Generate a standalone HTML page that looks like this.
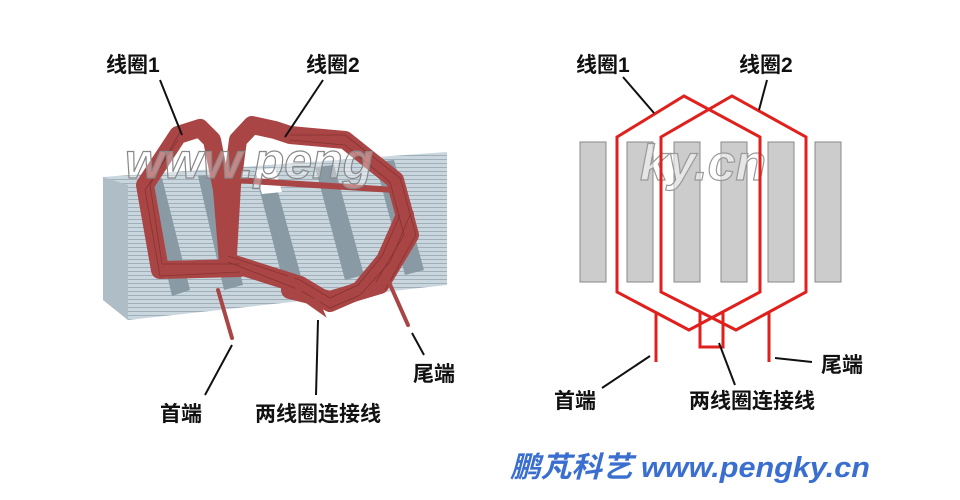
<!DOCTYPE html>
<html><head><meta charset="utf-8"><style>
html,body{margin:0;padding:0;background:#fff;width:960px;height:500px;overflow:hidden}
svg{display:block}
.lb{font-family:"Liberation Sans","Noto Sans CJK SC",sans-serif;font-weight:bold;font-size:21px;fill:#111}
</style></head><body>
<svg width="960" height="500" viewBox="0 0 960 500">
<defs>
<pattern id="lam" width="6" height="4" patternUnits="userSpaceOnUse">
<rect width="6" height="4" fill="#c9d6de"/><rect y="3" width="6" height="1" fill="#9fb0ba"/>
</pattern>
</defs>
<!-- LEFT 3D -->
<polygon points="103,177 447,152 447,285 128,320 103,300" fill="url(#lam)"/>
<polygon points="103,177 128,185 128,320 103,300" fill="#aebdc6"/>
<g fill="#8a9aa4">
<polygon points="145,180 162,178 190,290 172,296"/>
<polygon points="198,176 215,174 243,285 224,290"/>
<polygon points="255,172 272,170 302,280 284,285"/>
<polygon points="315,167 334,165 364,275 345,280"/>
<polygon points="375,162 394,160 424,270 405,275"/>
</g>
<polygon points="255,170 275,168 282,192 262,194" fill="#fff"/>
<g fill="none" stroke="#a94545" stroke-linejoin="round" stroke-linecap="round">
<path d="M240,268 L160,270 L145,185 L178,135 L200,128 L212,140 L222,190 L228,262 L300,285 L330,303 L360,290 L385,260 L405,215" stroke-width="18"/>
<path d="M228,255 L232,185 L238,140 L252,125 L275,130 L290,135 L345,140 L395,180 L410,235 L380,285 L330,300 L290,290" stroke-width="18"/>
<path d="M235,180 L395,190" stroke-width="6"/>
</g>
<g fill="none" stroke="#7a2a2a" stroke-width="0.8" opacity="0.7">
<path d="M240,272 L160,276 L145,190 L178,140"/>
<path d="M240,264 L162,264 L150,185 L180,132"/>
<path d="M228,262 L300,290 L330,308 L360,295 L390,262 L410,215"/>
<path d="M228,256 L300,280 L330,298 L358,285 L382,256 L400,215"/>
<path d="M290,135 L345,135 L400,178 L416,235 L385,290"/>
<path d="M290,140 L345,145 L390,182 L404,235 L376,282"/>
</g>
<g stroke="#a94545" stroke-width="4" fill="none" stroke-linecap="round">
<path d="M218,290 L232,338"/>
<path d="M290,275 L305,300 L322,312 L315,296"/>
<path d="M388,280 L408,325"/>
</g>
<text x="125" y="178" font-family="Liberation Sans,sans-serif" font-style="italic" font-weight="bold" font-size="50" fill="#ffffff" fill-opacity="0.35" stroke="#888" stroke-width="1.2">www.peng</text>
<g stroke="#111" stroke-width="2">
<line x1="160" y1="80" x2="182" y2="135"/>
<line x1="323" y1="80" x2="285" y2="137"/>
<line x1="232" y1="345" x2="205" y2="395"/>
<line x1="318" y1="320" x2="316" y2="395"/>
<line x1="412" y1="333" x2="424" y2="355"/>
</g>
<text class="lb" x="106" y="72">线圈1</text>
<text class="lb" x="306" y="72">线圈2</text>
<text class="lb" x="160" y="421">首端</text>
<text class="lb" x="255" y="421">两线圈连接线</text>
<text class="lb" x="413" y="381">尾端</text>
<!-- RIGHT -->
<g fill="#cccccc" stroke="#888" stroke-width="1">
<rect x="580" y="142" width="26" height="140"/>
<rect x="627" y="142" width="26" height="140"/>
<rect x="674" y="142" width="26" height="140"/>
<rect x="721" y="142" width="26" height="140"/>
<rect x="768" y="142" width="26" height="140"/>
<rect x="815" y="142" width="26" height="140"/>
</g>
<text x="640" y="180" font-family="Liberation Sans,sans-serif" font-style="italic" font-weight="bold" font-size="50" fill="#ffffff" fill-opacity="0.5" stroke="#999" stroke-width="1.2">ky.cn</text>
<g fill="none" stroke="#e0201c" stroke-width="3">
<polygon points="617,137 684,96 760,137 760,292 689,330 617,292"/>
<polygon points="661,137 732,96 806,137 806,292 736,330 661,292"/>
<line x1="656" y1="313" x2="656" y2="362"/>
<line x1="769" y1="313" x2="769" y2="362"/>
<polyline points="700,313 700,347 723,347 723,313"/>
</g>
<g stroke="#111" stroke-width="2">
<line x1="623" y1="77" x2="654" y2="113"/>
<line x1="767" y1="80" x2="759" y2="110"/>
<line x1="650" y1="356" x2="602" y2="388"/>
<line x1="719" y1="343" x2="735" y2="385"/>
<line x1="775" y1="358" x2="812" y2="362"/>
</g>
<text class="lb" x="576" y="72">线圈1</text>
<text class="lb" x="739" y="72">线圈2</text>
<text class="lb" x="554" y="408">首端</text>
<text class="lb" x="689" y="408">两线圈连接线</text>
<text class="lb" x="821" y="372">尾端</text>
<text x="510" y="477" font-family="Liberation Sans,'Noto Sans CJK SC',sans-serif" font-style="italic" font-weight="bold" font-size="29" fill="#3a6fd0" textLength="360" lengthAdjust="spacingAndGlyphs">鹏芃科艺 www.pengky.cn</text>
</svg>
</body></html>
